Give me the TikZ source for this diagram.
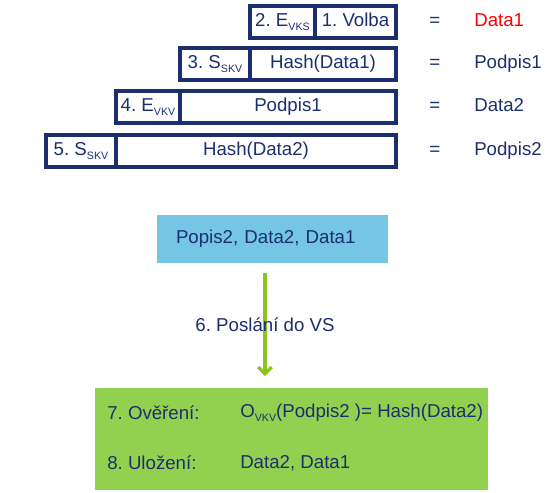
\documentclass[tikz,border=0pt]{standalone}
\usepackage{fontspec}
\setmainfont{Liberation Sans}
\usetikzlibrary{arrows.meta}

\definecolor{navy}{HTML}{1B2F6E}
\definecolor{skyfill}{HTML}{74C6E4}
\definecolor{leaf}{HTML}{92D050}
\definecolor{sprout}{HTML}{8EC31F}
\newcommand{\lowtag}[1]{\raisebox{-2.5pt}{\fontsize{8}{8}\selectfont #1}}
\frenchspacing

\begin{document}
\begin{tikzpicture}[x=0.75pt, y=-0.75pt, font=\fontsize{14}{16}\selectfont, text=navy,
        cell/.style={draw=navy, line width=2.6pt, minimum height=24pt, inner sep=1pt, text height=10pt, text depth=3pt},
        result/.style={anchor=west, inner sep=0pt, text height=10pt, text depth=3pt},
        line/.style={anchor=west, inner sep=0pt},
        send/.style={draw=sprout, line width=2.5pt, -{Straight Barb[length=5pt, width=10pt]}}]
    \useasboundingbox (0,0) rectangle (559,492);

    \node[cell, minimum width=48.75pt] (k1) at (282.5,22) {2. E\lowtag{VKS}};
    \node[cell, minimum width=60.75pt] (b1) at (355.5,22) {1. Volba};
    \node[result] (e1) at (429,22) {=};
    \node[result, text=red] (r1) at (474,22) {Data1};

    \node[cell, minimum width=52.5pt] (k2) at (215,64) {3. S\lowtag{SKV}};
    \node[cell, minimum width=109.5pt] (b2) at (323,64) {Hash(Data1)};
    \node[result] (e2) at (429,64) {=};
    \node[result] (r2) at (474,64) {Podpis1};

    \node[cell, minimum width=48pt] (k3) at (148,107) {4. E\lowtag{VKV}};
    \node[cell, minimum width=162pt] (b3) at (288,107) {Podpis1};
    \node[result] (e3) at (429,107) {=};
    \node[result] (r3) at (474,107) {Data2};

    \node[cell, minimum width=52.5pt] (k4) at (81,151) {5. S\lowtag{SKV}};
    \node[cell, minimum width=210pt] (b4) at (256,151) {Hash(Data2)};
    \node[result] (e4) at (429,151) {=};
    \node[result] (r4) at (474,151) {Podpis2};

    \node[fill=skyfill, minimum width=173.25pt, minimum height=36pt, text width=144.75pt, inner xsep=14.25pt, align=left] (msg) at (272.5,239) {Popis2, Data2, Data1};

    \node[fill=leaf, minimum width=294.75pt, minimum height=76.5pt] (store) at (291.5,439) {};
    \node[line] (check) at (107,413) {7. Ověření:};
    \node[line] (checkval) at (240,413) {O\lowtag{VKV}(Podpis2 )= Hash(Data2)};
    \node[line] (save) at (107,463) {8. Uložení:};
    \node[line] (saveval) at (240,463) {Data2, Data1};

    \coordinate (drop) at (265,376);
    \draw[send] ([yshift=-7.5pt]msg.south -| drop) -- node {6. Poslání do VS} (drop);
\end{tikzpicture}
\end{document}
